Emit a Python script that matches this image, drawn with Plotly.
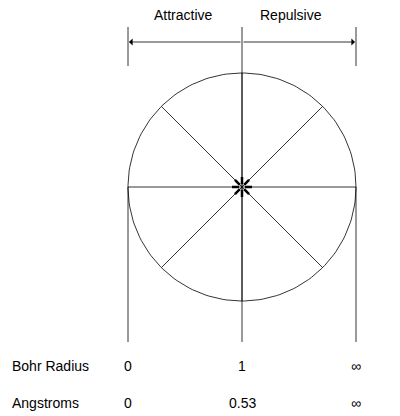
import numpy as np
import plotly.graph_objects as go

bohr_labels = ["0", "1", "∞"]
angstrom_labels = ["0", "0.53", "∞"]
region_labels = ["Attractive", "Repulsive"]
row_titles = ["Bohr Radius", "Angstroms"]

cx, cy, R = 242, 187, 114
xs = [cx - R, cx, cx + R]
fig = go.Figure()
line = dict(color="black", width=0.8)

t = np.linspace(0, 2*np.pi, 200)
fig.add_trace(go.Scatter(x=cx + R*np.cos(t), y=cy + R*np.sin(t), mode="lines", line=line))
for k in range(8):
    a = k*np.pi/4
    fig.add_trace(go.Scatter(x=[cx, cx + R*np.cos(a)], y=[cy, cy + R*np.sin(a)], mode="lines", line=line))
    fig.add_trace(go.Scatter(x=[cx + 3*np.cos(a), cx + 10*np.cos(a)], y=[cy + 3*np.sin(a), cy + 10*np.sin(a)],
                             mode="lines", line=dict(color="black", width=2.5)))
fig.add_trace(go.Scatter(x=[xs[0], xs[0]], y=[cy, 342], mode="lines", line=line))
fig.add_trace(go.Scatter(x=[xs[2], xs[2]], y=[cy, 342], mode="lines", line=line))
fig.add_trace(go.Scatter(x=[xs[1], xs[1]], y=[27, 342], mode="lines", line=line))
for x in (xs[0], xs[2]):
    fig.add_trace(go.Scatter(x=[x, x], y=[27, 66], mode="lines", line=line))
for x0, x1 in ((xs[1], xs[0]), (xs[1], xs[2])):
    fig.add_annotation(x=x1, y=42, ax=x0, ay=42, xref="x", yref="y", axref="x", ayref="y",
                       showarrow=True, arrowhead=1, arrowsize=1.5, arrowwidth=0.8,
                       arrowcolor="black", text="", standoff=1)

font = dict(family="Liberation Sans, Arial", size=14, color="black")
fig.add_annotation(x=183, y=15, text=region_labels[0], showarrow=False, font=font)
fig.add_annotation(x=291, y=15, text=region_labels[1], showarrow=False, font=font)
fig.add_annotation(x=50, y=366, text=row_titles[0], showarrow=False, font=font)
fig.add_annotation(x=45, y=403, text=row_titles[1], showarrow=False, font=font)
for x, b, a in zip(xs, bohr_labels, angstrom_labels):
    fig.add_annotation(x=x, y=366, text=b, showarrow=False, font=font)
    fig.add_annotation(x=x, y=403, text=a, showarrow=False, font=font)

# compensate for the page's default 8px body margin
fig.update_layout(width=400, height=416, margin=dict(l=0, r=0, t=0, b=0), showlegend=False,
                  plot_bgcolor="white", paper_bgcolor="white",
                  xaxis=dict(range=[8, 408], visible=False),
                  yaxis=dict(range=[424, 8], visible=False))
fig.write_html("out.html")
